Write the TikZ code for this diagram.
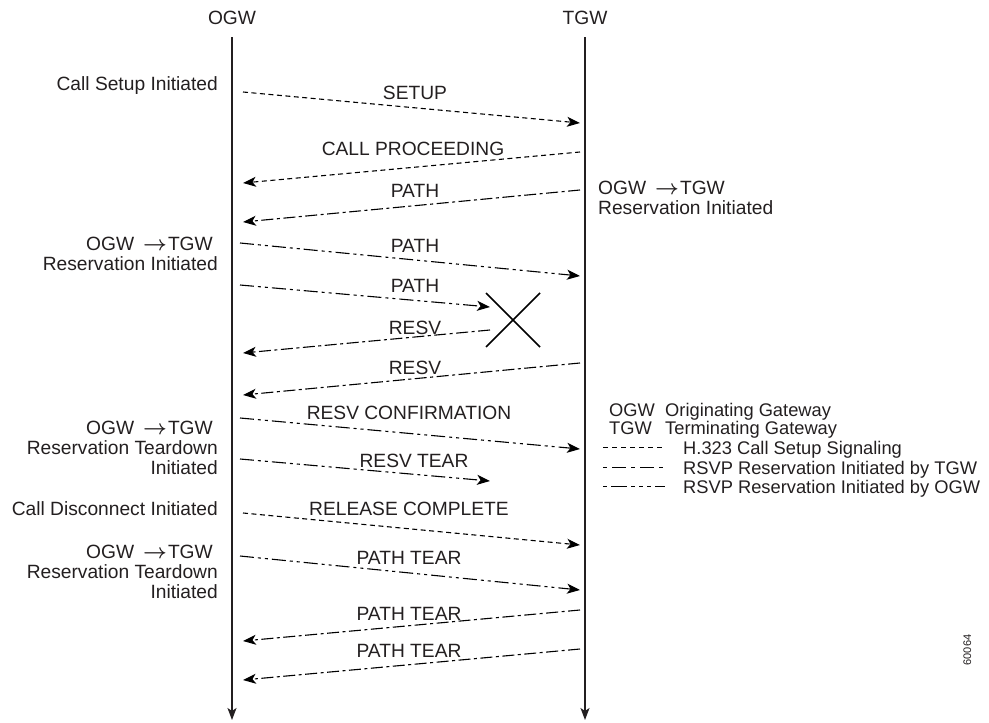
\documentclass[tikz,border=0pt]{standalone}
\usepackage{fontspec}
\setmainfont{Liberation Sans}
\usetikzlibrary{arrows.meta}
\definecolor{ink}{RGB}{35,31,32}
\newcommand{\arr}{\hspace{9pt}{\fontsize{21}{20}\selectfont\boldmath$\rightarrow$}\hspace{1pt}}
\tikzset{
  txt/.style={inner sep=0pt, text=ink, font=\fontsize{19.2}{20}\selectfont},
  leg/.style={inner sep=0pt, text=ink, font=\fontsize{18.3}{20}\selectfont},
  msg/.style={line width=1.1pt, -{Stealth[length=13pt,width=10pt,inset=3.5pt]}},
  h323/.style={dash pattern=on 5pt off 3.5pt},
  tgwline/.style={dash pattern=on 12pt off 3.5pt on 3pt off 3.5pt},
  ogwline/.style={dash pattern=on 14pt off 4pt on 3pt off 4pt on 3pt off 4pt},
  life/.style={line width=1.4pt, draw=ink, -{Stealth[length=12pt,width=9pt,inset=3pt]}},
}
\begin{document}
\begin{tikzpicture}[x=1pt,y=-1pt]
\useasboundingbox (0,0) rectangle (989,723);
% lifelines
\node[txt, anchor=base] (ogw) at (232,24) {OGW};
\node[txt, anchor=base] (tgw) at (585,24) {TGW};
\coordinate (ogwtop) at (232,37);
\coordinate (ogwbot) at (232,720);
\coordinate (tgwtop) at (585,37);
\coordinate (tgwbot) at (585,720);
\draw[life] (ogwtop) -- (ogwbot);
\draw[life] (tgwtop) -- (tgwbot);

% endpoints
\coordinate (a1) at (243,92);  \coordinate (b1) at (580,123);
\coordinate (a2) at (580,152); \coordinate (b2) at (243,183);
\coordinate (a3) at (580,190); \coordinate (b3) at (243,222);
\coordinate (a4) at (240,243); \coordinate (b4) at (580,276);
\coordinate (a5) at (240,285); \coordinate (b5) at (490,307);
\coordinate (a7) at (490,330); \coordinate (b7) at (243,353);
\coordinate (a8) at (580,363); \coordinate (b8) at (243,395);
\coordinate (a9) at (240,418); \coordinate (b9) at (580,449);
\coordinate (a10) at (240,459); \coordinate (b10) at (490,481);
\coordinate (a11) at (243,513); \coordinate (b11) at (580,545);
\coordinate (a12) at (240,556); \coordinate (b12) at (580,590);
\coordinate (a13) at (580,610); \coordinate (b13) at (243,641);
\coordinate (a14) at (580,649); \coordinate (b14) at (243,680);

\draw[msg,h323] (a1) -- (b1);
\draw[msg,h323] (a2) -- (b2);
\draw[msg,tgwline] (a3) -- (b3);
\draw[msg,ogwline] (a4) -- (b4);
\draw[msg,ogwline] (a5) -- (b5);
\draw[msg,tgwline] (a7) -- (b7);
\draw[msg,tgwline] (a8) -- (b8);
\draw[msg,ogwline] (a9) -- (b9);
\draw[msg,ogwline] (a10) -- (b10);
\draw[msg,h323] (a11) -- (b11);
\draw[msg,ogwline] (a12) -- (b12);
\draw[msg,tgwline] (a13) -- (b13);
\draw[msg,tgwline] (a14) -- (b14);

% message labels
\node[txt, anchor=base] (m1) at (415,99) {SETUP};
\node[txt, anchor=base] (m2) at (413,155) {CALL PROCEEDING};
\node[txt, anchor=base] (m3) at (415,197) {PATH};
\node[txt, anchor=base] (m4) at (415,252) {PATH};
\node[txt, anchor=base] (m5) at (415,292) {PATH};
\node[txt, anchor=base] (m7) at (415,334) {RESV};
\node[txt, anchor=base] (m8) at (415,374) {RESV};
\node[txt, anchor=base] (m9) at (409,419) {RESV CONFIRMATION};
\node[txt, anchor=base] (m10) at (414,467) {RESV TEAR};
\node[txt, anchor=base] (m11) at (409,515) {RELEASE COMPLETE};
\node[txt, anchor=base] (m12) at (409,564) {PATH TEAR};
\node[txt, anchor=base] (m13) at (409,620) {PATH TEAR};
\node[txt, anchor=base] (m14) at (409,657) {PATH TEAR};

% cross
\coordinate (x1) at (486,293); \coordinate (x2) at (540,347);
\coordinate (x3) at (540,293); \coordinate (x4) at (486,347);
\draw[line width=1.5pt] (x1) -- (x2);
\draw[line width=1.5pt] (x3) -- (x4);

% side labels (base anchor = baseline of last line)
\node[txt, anchor=base east] (l1) at (218,90) {Call Setup Initiated};
\node[txt, anchor=base east, align=right] (l2) at (218,270) {OGW\arr TGW\kern5pt\\Reservation Initiated};
\node[txt, anchor=base east, align=right] (l3) at (218,474) {OGW\arr TGW\kern5pt\\Reservation Teardown\\Initiated};
\node[txt, anchor=base east] (l4) at (218,515) {Call Disconnect Initiated};
\node[txt, anchor=base east, align=right] (l5) at (218,598) {OGW\arr TGW\kern5pt\\Reservation Teardown\\Initiated};
\node[txt, anchor=base west, align=left] (r1) at (598,214) {OGW\arr TGW\\Reservation Initiated};

% legend
\node[leg, anchor=base west] (k1) at (609,416) {OGW};
\node[leg, anchor=base west] (k1t) at (665,416) {Originating Gateway};
\node[leg, anchor=base west] (k2) at (609,434) {TGW};
\node[leg, anchor=base west] (k2t) at (665,434) {Terminating Gateway};
\node[leg, anchor=base west] (k3t) at (683,454) {H.323 Call Setup Signaling};
\node[leg, anchor=base west] (k4t) at (683,474) {RSVP Reservation Initiated by TGW};
\node[leg, anchor=base west] (k5t) at (683,493) {RSVP Reservation Initiated by OGW};
\coordinate (k3a) at (603,447); \coordinate (k3b) at (665,447);
\coordinate (k4a) at (603,467); \coordinate (k4b) at (665,467);
\coordinate (k5a) at (603,486); \coordinate (k5b) at (665,486);
\draw[line width=1pt, dash pattern=on 5pt off 4pt] (k3a) -- (k3b);
\draw[line width=1pt, dash pattern=on 4pt off 5pt on 14pt off 5pt] (k4a) -- (k4b);
\draw[line width=1pt, dash pattern=on 4pt off 4pt on 16pt off 4pt on 4pt off 4pt on 4pt off 4pt] (k5a) -- (k5b);

\node[txt, font=\fontsize{11}{12}\selectfont, rotate=90, anchor=base] (id) at (971,650) {60064};
\end{tikzpicture}
\end{document}
